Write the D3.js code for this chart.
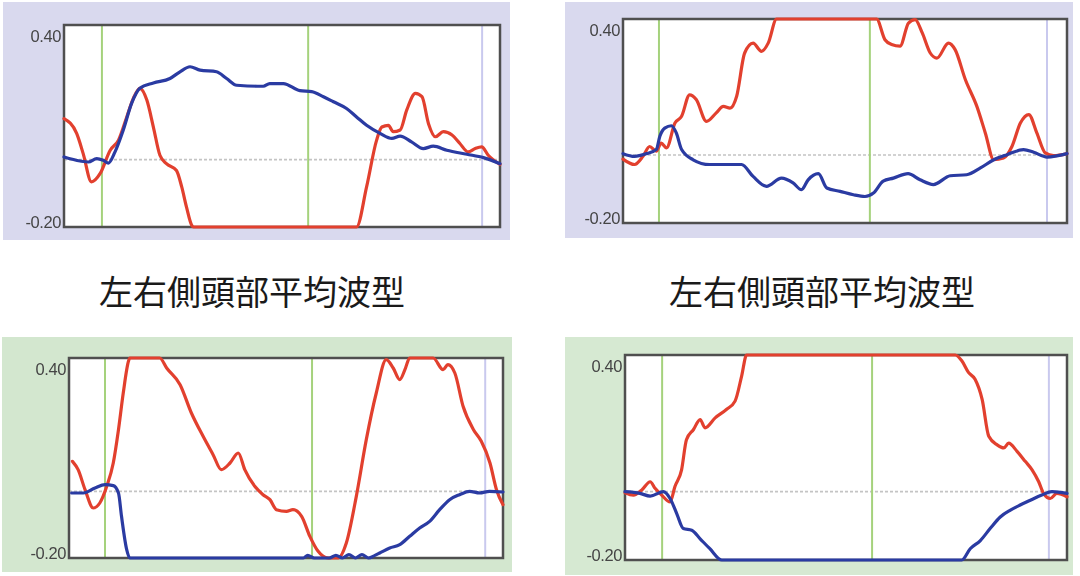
<!DOCTYPE html>
<html><head><meta charset="utf-8">
<script src="https://cdn.jsdelivr.net/npm/d3@7"></script>
<style>html,body{margin:0;padding:0;background:#fff;}svg{display:block;}</style>
</head><body>
<script>
// ---------- DATA ----------
const yDomain = [-0.2, 0.4];
const xDomain = [0, 100];
const tickLabels = ["0.40", "-0.20"];
const tickValues = [0.4, -0.2];
const captions = ["左右側頭部平均波型", "左右側頭部平均波型"];

const p1Markers = [8.7, 56.0, 95.9];
const p2Markers = [8.1, 55.6, 95.5];
const p3Markers = [8.3, 56.0, 95.9];
const p4Markers = [8.4, 55.9, 95.9];

const p1Red = [[0,0.122],[2.9,0.078],[4.4,0.018],[6.3,-0.066],[8.3,-0.041],[10.6,0.028],[12.5,0.058],[14.4,0.127],[15.9,0.182],[17.4,0.212],[19,0.177],[20.5,0.097],[22,0.013],[23.5,-0.012],[25.8,-0.032],[27,-0.081],[28.1,-0.141],[29.3,-0.195],[29.7,-0.2],[67.1,-0.2],[69.4,-0.081],[71.7,0.058],[72.9,0.097],[74.4,0.102],[75.5,0.083],[77.1,0.088],[78.6,0.147],[80.6,0.197],[82.1,0.187],[83.6,0.107],[85.2,0.068],[87,0.083],[89,0.073],[90.8,0.048],[92.7,0.023],[94.3,0.033],[95.8,0.038],[97.3,0.013],[100,-0.014]];
const p1Blue = [[0,0.008],[3.7,-0.004],[5.6,-0.007],[7.5,0.003],[9,-0.002],[10.2,-0.01],[11.7,0.023],[13.6,0.088],[15.5,0.167],[17.4,0.212],[20.5,0.228],[24.3,0.241],[26.6,0.261],[28.9,0.276],[31.2,0.266],[35,0.261],[37.3,0.241],[39.6,0.221],[45.7,0.218],[47.2,0.226],[50.3,0.226],[54.1,0.205],[56.8,0.202],[59.5,0.187],[61.8,0.172],[64.8,0.152],[67.1,0.127],[69.4,0.102],[72.5,0.078],[75.2,0.063],[77.1,0.07],[79.7,0.053],[82.4,0.033],[84.7,0.04],[87.8,0.028],[92.4,0.016],[96.2,0.006],[100,-0.012]];

const p2Red = [[0,-0.012],[2.6,-0.028],[4.5,-0.004],[6,0.025],[7.5,0.011],[8.6,0.035],[9.8,0.021],[11.7,0.094],[13.2,0.114],[15,0.177],[16.5,0.163],[18.8,0.099],[21,0.124],[22.6,0.143],[24.1,0.138],[25.6,0.173],[27.4,0.3],[29.3,0.329],[31.2,0.305],[32.7,0.329],[34.6,0.4],[57.1,0.4],[59,0.339],[60.5,0.325],[62.4,0.32],[64.3,0.388],[65.8,0.398],[67.4,0.359],[69.2,0.3],[70.7,0.285],[73.3,0.329],[74.8,0.31],[77.1,0.222],[79.7,0.143],[81.6,0.065],[83.5,-0.014],[85.7,-0.009],[87.6,0.025],[89.5,0.094],[91.4,0.119],[93.2,0.065],[95.1,0.006],[97,-0.002],[100,0.004]];
const p2Blue = [[0,0.004],[2.6,-0.004],[5.3,0.004],[7.5,0.016],[8.3,0.055],[9.4,0.079],[10.9,0.086],[12,0.065],[13.2,0.016],[15.8,-0.014],[19.5,-0.028],[26.7,-0.028],[29.3,-0.063],[32.3,-0.092],[35.7,-0.068],[38.3,-0.082],[40.2,-0.102],[41.7,-0.073],[44,-0.055],[45.9,-0.097],[48.9,-0.107],[51.9,-0.117],[54.5,-0.122],[56.4,-0.112],[58.6,-0.077],[60.9,-0.068],[64.2,-0.055],[66.9,-0.073],[69.9,-0.087],[73.7,-0.061],[77.4,-0.058],[80.5,-0.038],[83.5,-0.014],[86.5,0.001],[90.2,0.016],[92.5,0.008],[95.5,-0.006],[100,0.004]];

const p3Red = [[0.8,0.09],[2.1,0.065],[3.7,0.005],[5.6,-0.05],[7.1,-0.035],[8.7,0.015],[10.2,0.085],[11.4,0.185],[12.5,0.295],[13.7,0.39],[14,0.4],[20.9,0.4],[22.5,0.37],[25.6,0.32],[28.2,0.235],[30.9,0.165],[33.2,0.11],[35.1,0.065],[37.1,0.085],[39,0.115],[40.5,0.065],[42.8,0.015],[44.7,-0.01],[46.3,-0.025],[47.8,-0.055],[50.1,-0.06],[51.6,-0.055],[53.6,-0.075],[55.5,-0.135],[57.4,-0.18],[59.7,-0.2],[62,-0.2],[63.9,-0.155],[66.2,-0.015],[68.5,0.155],[70.8,0.295],[73.1,0.395],[74.7,0.37],[76.2,0.335],[77.4,0.365],[78.5,0.4],[83.9,0.4],[86.2,0.365],[87.3,0.38],[88.9,0.355],[90.8,0.255],[93.2,0.185],[95,0.15],[97,0.085],[98.5,0.005],[100,-0.04]];
const p3Blue = [[0.6,-0.005],[3.3,-0.005],[6,0.01],[8.3,0.02],[10.2,0.017],[11.4,-0.005],[12.1,-0.075],[13.3,-0.175],[14,-0.2],[54,-0.2],[55,-0.192],[56.5,-0.2],[60,-0.2],[61.5,-0.192],[63,-0.2],[64.5,-0.19],[66,-0.2],[67.5,-0.19],[69,-0.2],[70.5,-0.192],[71.6,-0.185],[73.9,-0.17],[76.2,-0.16],[78.5,-0.135],[80.8,-0.11],[83.1,-0.09],[85.4,-0.055],[87.7,-0.025],[90,-0.01],[92.3,0],[94.6,-0.005],[96.9,0],[100,-0.002]];

const p4Red = [[0,-0.003],[1.9,-0.01],[3.8,0.005],[5.7,0.029],[6.8,0.01],[8.3,-0.01],[10.2,-0.03],[11.3,0.015],[12.8,0.064],[13.9,0.152],[15.5,0.182],[17,0.211],[18.1,0.187],[20.4,0.216],[23,0.241],[24.9,0.265],[26.4,0.339],[27.5,0.4],[74.7,0.4],[76.2,0.383],[77.7,0.349],[79.2,0.329],[80.8,0.27],[82.3,0.162],[84.2,0.137],[85.7,0.128],[86.8,0.142],[88.7,0.118],[90.6,0.088],[92.1,0.064],[93.6,0.029],[94.7,-0.005],[96.2,-0.02],[97.7,-0.005],[100,-0.015]];
const p4Blue = [[0,0],[3.4,-0.005],[5.7,-0.013],[8.7,0],[10.2,-0.02],[11.7,-0.064],[13.2,-0.108],[15.1,-0.113],[17,-0.138],[19.2,-0.167],[21.9,-0.2],[76.2,-0.2],[78.1,-0.167],[80.4,-0.143],[82.6,-0.108],[84.9,-0.074],[87.2,-0.054],[89.4,-0.039],[91.7,-0.025],[94.3,-0.01],[96.6,0],[100,-0.005]];

// ---------- LAYOUT ----------
const panels = [
  {bg:[3,2,510,240], bgColor:"#d9d9ee", frame:[64,25,500,227], red:p1Red, blue:p1Blue, markers:p1Markers},
  {bg:[565,2,1073,238], bgColor:"#d9d9ee", frame:[623,19,1067,223], red:p2Red, blue:p2Blue, markers:p2Markers},
  {bg:[2,337,512,572], bgColor:"#d3e7cf", frame:[69,358,503,558], red:p3Red, blue:p3Blue, markers:p3Markers},
  {bg:[565,337,1073,575], bgColor:"#d6e9d2", frame:[625,355,1067,560], red:p4Red, blue:p4Blue, markers:p4Markers}
];
const captionPos = [[252,290],[822,290]];

const svg = d3.select("body").append("svg").attr("width",1080).attr("height",576);
svg.append("rect").attr("width",1080).attr("height",576).attr("fill","#fff");
const defs = svg.append("defs");
const blur = defs.append("filter").attr("id","soft").attr("x","-5%").attr("y","-5%").attr("width","110%").attr("height","110%");
blur.append("feGaussianBlur").attr("stdDeviation",0.65);

panels.forEach((p,i)=>{
  const [bx0,by0,bx1,by1] = p.bg;
  svg.append("rect").attr("x",bx0).attr("y",by0).attr("width",bx1-bx0).attr("height",by1-by0)
     .attr("fill",p.bgColor);
  const [fx0,fy0,fx1,fy1] = p.frame;
  const x = d3.scaleLinear().domain(xDomain).range([fx0,fx1]);
  const y = d3.scaleLinear().domain(yDomain).range([fy1,fy0]);
  const g = svg.append("g").attr("filter","url(#soft)");
  g.append("rect").attr("x",fx0).attr("y",fy0).attr("width",fx1-fx0).attr("height",fy1-fy0).attr("fill","#fff");
  // zero line
  g.append("line").attr("x1",x(0)).attr("x2",x(100)).attr("y1",y(0)).attr("y2",y(0))
    .attr("stroke","#c4c4c4").attr("stroke-width",1.6).attr("stroke-dasharray","3,2");
  // markers
  p.markers.forEach((m,k)=>{
    g.append("line").attr("x1",x(m)).attr("x2",x(m)).attr("y1",fy0).attr("y2",fy1)
      .attr("stroke", k<2 ? "#a5d27c" : "#c9c9ee").attr("stroke-width",2);
  });
  // frame
  g.append("rect").attr("x",fx0).attr("y",fy0).attr("width",fx1-fx0).attr("height",fy1-fy0)
    .attr("fill","none").attr("stroke","#505050").attr("stroke-width",2.5);
  // axis tick labels via axis
  const axis = d3.axisLeft(y).tickValues(tickValues).tickSize(0).tickPadding(3)
     .tickFormat((d,j)=>tickLabels[j]);
  const ag = g.append("g").attr("transform",`translate(${fx0},0)`).call(axis);
  ag.select(".domain").remove();
  ag.selectAll("text").attr("font-family","Liberation Sans, Arial, sans-serif").attr("font-size",16.5)
    .attr("fill","#454545").attr("letter-spacing",-0.4)
    .attr("dy",(d)=> d===0.4 ? "1.0em" : "0.0em");
  const line = d3.line().x(d=>x(d[0])).y(d=>y(d[1])).curve(d3.curveMonotoneX);
  g.append("path").datum(p.red).attr("d",line).attr("fill","none").attr("stroke","#e2402f")
    .attr("stroke-width",3.2).attr("stroke-linejoin","round").attr("stroke-linecap","round");
  g.append("path").datum(p.blue).attr("d",line).attr("fill","none").attr("stroke","#2b3aa2")
    .attr("stroke-width",3.2).attr("stroke-linejoin","round").attr("stroke-linecap","round");
});

captions.forEach((c,i)=>{
  svg.append("text").attr("x",captionPos[i][0]).attr("y",captionPos[i][1])
    .attr("text-anchor","middle").attr("dominant-baseline","central")
    .attr("font-family","Noto Sans CJK JP, Noto Sans CJK SC, sans-serif").attr("font-size",34)
    .attr("fill","#1a1a1a").text(c);
});
</script>
</body></html>
